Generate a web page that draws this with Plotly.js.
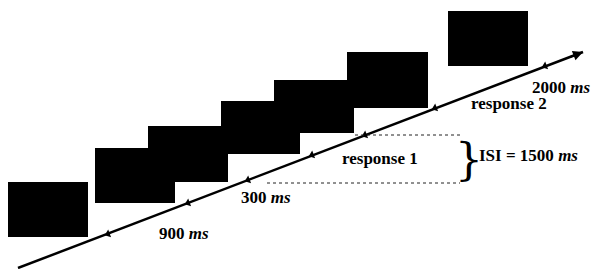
<!DOCTYPE html>
<html>
<head>
<meta charset="utf-8">
<script src="https://cdn.plot.ly/plotly-3.0.1.min.js"></script>
<style>html,body{margin:0;padding:0;background:#fff;}#chart{width:592px;height:269px;}</style>
</head>
<body>
<div id="chart"></div>
<script>
// Stimulus screens (black boxes), in diagram units
const stimX0 = [8, 95, 148, 221, 274, 347, 448];
const stimX1 = [88, 175, 228, 300, 354, 428, 528];
const stimY0 = [182, 148, 126, 101, 80, 52, 11];
const stimY1 = [237, 203, 182, 154, 133, 108, 66];

// Time line
const lineX = [18, 583];
const lineY = [268, 52];
const tickX = [108, 188, 248, 312, 365, 435, 545];
const tickY = [234, 203, 180, 155, 135, 108, 66];

// Labels
const labelText = ['900 <i>ms</i>', '300 <i>ms</i>', 'response 1', 'ISI = 1500 <i>ms</i>', '2000 <i>ms</i>', 'response 2'];
const labelX = [157, 239, 340, 477, 530, 469];
const labelY = [233, 197, 158, 155, 87, 103];

// ISI bracket dashed lines
const dashX0 = [355, 267];
const dashX1 = [462, 460];
const dashY = [135, 183];
const braceX = 469;
const braceY = 159;

const shapes = [];
for (let i = 0; i < stimX0.length; i++) {
  shapes.push({type:'rect', xref:'x', yref:'y', x0:stimX0[i], x1:stimX1[i], y0:stimY0[i], y1:stimY1[i],
    fillcolor:'#000', line:{width:0}, layer:'below'});
}
for (let i = 0; i < dashX0.length; i++) {
  shapes.push({type:'line', xref:'x', yref:'y', x0:dashX0[i], x1:dashX1[i], y0:dashY[i], y1:dashY[i],
    line:{color:'#222', width:1, dash:'dot'}});
}

const annotations = labelText.map((t, i) => ({
  x: labelX[i], y: labelY[i], xref:'x', yref:'y', text:'<b>' + t + '</b>', showarrow:false,
  xanchor:'left', yanchor:'middle', font:{family:'Liberation Serif, Times New Roman, serif', size:17, color:'#000'}
}));
annotations.push({x: braceX, y: braceY, xref:'x', yref:'y', text:'}', showarrow:false,
  xanchor:'center', yanchor:'middle', font:{family:'DejaVu Serif, serif', size:44, color:'#000'}});
// arrowhead at end of time line
annotations.push({x: lineX[1], y: lineY[1], ax: lineX[1] - 14, ay: lineY[1] + 5.4, xref:'x', yref:'y', axref:'x', ayref:'y',
  text:'', showarrow:true, arrowhead:2, arrowsize:1, arrowwidth:2, arrowcolor:'#000'});

const traces = [
  {x: lineX, y: lineY, mode:'lines', line:{color:'#000', width:2.5}, hoverinfo:'skip'},
  {x: tickX, y: tickY, mode:'markers', hoverinfo:'skip',
   marker:{symbol:'triangle-left', size:7, angle:-21, color:'#000'}}
];

const layout = {
  width:592, height:269, margin:{l:0, r:0, t:0, b:0},
  paper_bgcolor:'#fff', plot_bgcolor:'#fff', showlegend:false,
  xaxis:{range:[0,592], visible:false, fixedrange:true},
  yaxis:{range:[269,0], visible:false, fixedrange:true},
  shapes: shapes, annotations: annotations
};
Plotly.newPlot('chart', traces, layout, {staticPlot:true, displayModeBar:false});
</script>
</body>
</html>
